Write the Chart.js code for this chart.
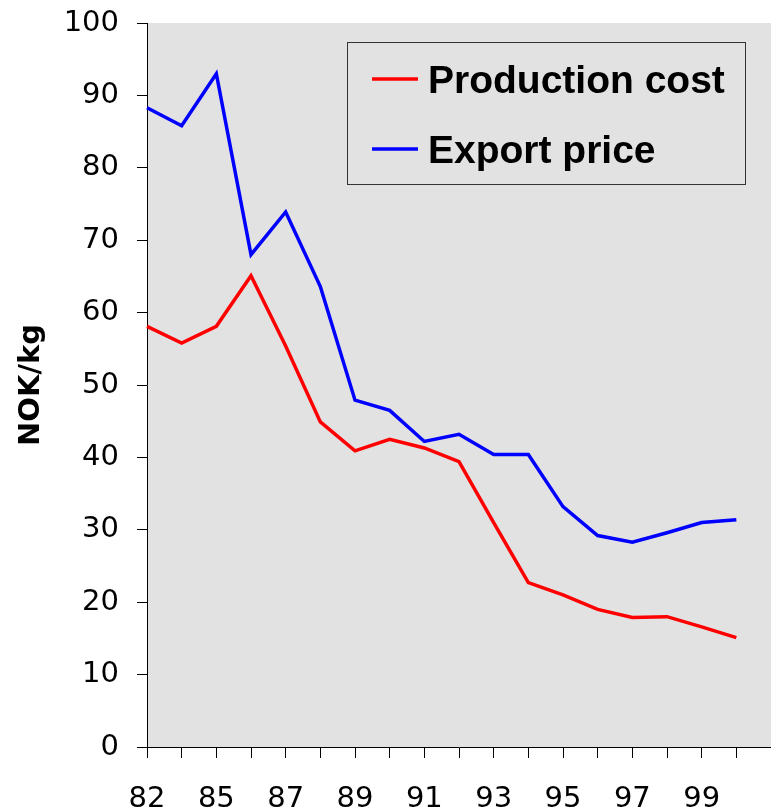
<!DOCTYPE html>
<html>
<head>
<meta charset="utf-8">
<script src="https://cdn.jsdelivr.net/npm/chart.js@4.4.1/dist/chart.umd.min.js"></script>
<style>
  html, body { margin: 0; padding: 0; background: #fff; }
  #wrap { width: 771px; height: 812px; position: relative; }
</style>
</head>
<body>
<div id="wrap"><canvas id="lineChart"></canvas></div>
<script>
// years (one spare slot at the end keeps the plot running past the last point)
var years = ['82', '84', '85', '86', '87', '88', '89', '90', '91', '92', '93', '94', '95', '96', '97', '98', '99', '00', ''];
var productionCost = [58.1, 55.8, 58.1, 65.1, 55.4, 44.9, 40.9, 42.5, 41.3, 39.4, 31.0, 22.7, 21.0, 19.0, 17.9, 18.0, 16.6, 15.1];
var exportPrice = [88.3, 85.8, 93.0, 68.0, 73.9, 63.6, 47.9, 46.5, 42.2, 43.2, 40.4, 40.4, 33.2, 29.2, 28.3, 29.6, 31.0, 31.4];
var seriesNames = ['Production cost', 'Export price'];
var yTicks = [0, 10, 20, 30, 40, 50, 60, 70, 80, 90, 100];

var plotBg = '#e2e2e2';

// grey plot area
var plotBackground = {
    id: 'plotBackground',
    beforeDraw: function (chart) {
        var a = chart.chartArea, ctx = chart.ctx;
        ctx.save();
        ctx.fillStyle = plotBg;
        ctx.fillRect(a.left, a.top, a.right - a.left, a.bottom - a.top);
        ctx.restore();
    }
};

// boxed legend inside the plot, top right
var boxLegend = {
    id: 'boxLegend',
    afterDraw: function (chart) {
        var ctx = chart.ctx;
        ctx.save();
        ctx.fillStyle = plotBg;
        ctx.fillRect(347.5, 42.5, 398, 142);
        ctx.strokeStyle = '#333';
        ctx.lineWidth = 1;
        ctx.strokeRect(347.5, 42.5, 398, 142);
        ctx.font = 'bold 39px "Liberation Sans", Arial, sans-serif';
        ctx.textBaseline = 'alphabetic';
        chart.data.datasets.forEach(function (ds, i) {
            var y = 79 + i * 70;
            ctx.strokeStyle = ds.borderColor;
            ctx.lineWidth = 3.5;
            ctx.beginPath();
            ctx.moveTo(372, y);
            ctx.lineTo(418, y);
            ctx.stroke();
            ctx.fillStyle = '#000';
            ctx.fillText(ds.label, 428, y + 14);
        });
        ctx.restore();
    }
};

var tickFont = { family: '"DejaVu Sans", sans-serif', size: 29 };

var ctx = document.getElementById('lineChart').getContext('2d');
new Chart(ctx, {
    type: 'line',
    data: {
        labels: years,
        datasets: [{
            label: seriesNames[0],
            data: productionCost,
            borderColor: '#ff0000',
            borderWidth: 3.5,
            pointRadius: 0,
            tension: 0,
            fill: false
        }, {
            label: seriesNames[1],
            data: exportPrice,
            borderColor: '#0000ff',
            borderWidth: 3.5,
            pointRadius: 0,
            tension: 0,
            fill: false
        }]
    },
    options: {
        responsive: true,
        maintainAspectRatio: false,
        animation: false,
        layout: { padding: { top: 23, right: 0, left: 0, bottom: 0 } },
        plugins: {
            legend: { display: false },
            tooltip: { enabled: false }
        },
        scales: {
            x: {
                type: 'category',
                offset: false,
                grid: {
                    drawOnChartArea: false,
                    drawTicks: true,
                    tickLength: 11,
                    color: function (c) { return c.index === years.length - 1 ? 'rgba(0,0,0,0)' : '#000'; }
                },
                border: { display: true, color: '#000', width: 1 },
                ticks: {
                    autoSkip: false,
                    maxRotation: 0,
                    color: '#000',
                    font: tickFont,
                    padding: 24,
                    callback: function (v, i) { return i % 2 === 0 ? years[i] : ''; }
                },
                afterFit: function (s) {
                    s.height = 65;
                    s.paddingLeft = 0;
                    s.paddingRight = 0;
                }
            },
            y: {
                min: 0,
                max: 100,
                afterBuildTicks: function (s) { s.ticks = yTicks.map(function (v) { return { value: v }; }); },
                grid: {
                    drawOnChartArea: false,
                    drawTicks: true,
                    tickLength: 10,
                    color: '#000'
                },
                border: { display: true, color: '#000', width: 1 },
                ticks: {
                    color: '#000',
                    font: tickFont,
                    padding: 18
                },
                title: {
                    display: true,
                    text: 'NOK/kg',
                    color: '#000',
                    font: { family: '"DejaVu Sans", sans-serif', size: 29, weight: 'bold' },
                    padding: { top: 14, bottom: 0 }
                },
                afterFit: function (s) {
                    s.width = 147;
                    s.paddingTop = 0;
                    s.paddingBottom = 0;
                }
            }
        }
    },
    plugins: [plotBackground, boxLegend]
});
</script>
</body>
</html>
